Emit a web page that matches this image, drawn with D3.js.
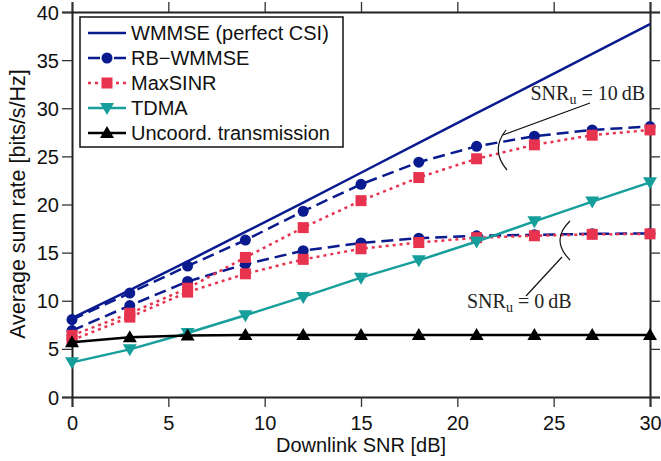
<!DOCTYPE html>
<html><head><meta charset="utf-8">
<script src="https://cdn.jsdelivr.net/npm/d3@7"></script>
<style>body{margin:0;background:#fff}svg{display:block}.sans{font-family:"Liberation Sans",Arial,sans-serif}.serif{font-family:"Liberation Serif","Times New Roman",serif}</style>
</head><body><svg id="c" width="661" height="461"></svg>
<script>
const snr = [0,3,6,9,12,15,18,21,24,27,30];
const wmmsePerfect = [8.2,11.1,14.1,17.15,20.2,23.3,26.4,29.5,32.55,35.65,38.75];
const rbHigh = [8.05,10.8,13.6,16.3,19.3,22.1,24.4,26.05,27.1,27.75,28.1];
const rbLow = [6.9,9.5,12.0,13.8,15.2,16.0,16.5,16.75,16.85,16.95,17.0];
const maxHigh = [6.4,8.7,11.3,14.5,17.6,20.4,22.8,24.75,26.2,27.2,27.75];
const maxLow = [5.9,8.3,10.9,12.8,14.3,15.4,16.05,16.55,16.75,16.9,16.95];
const tdma = [3.6,4.95,6.65,8.5,10.4,12.4,14.2,16.15,18.25,20.3,22.3];
const uncoord = [5.7,6.2,6.4,6.45,6.45,6.45,6.45,6.45,6.45,6.45,6.45];
const xTicks = [0,5,10,15,20,25,30];
const yTicks = [0,5,10,15,20,25,30,35,40];
const legendLabels = ["WMMSE (perfect CSI)","RB\u2212WMMSE","MaxSINR","TDMA","Uncoord. transmission"];

const svg = d3.select("#c");
const x = d3.scaleLinear().domain([0,30]).range([72,650]);
const y = d3.scaleLinear().domain([0,40]).range([397,12]);

const BLUE="#0a1a8f", RED="#e8334f", TEAL="#169e9a", BLACK="#000";

const fs = "20px";
const axB = svg.append("g").attr("transform","translate(0,397)").call(d3.axisBottom(x).tickValues(xTicks).tickSize(10).tickPadding(4));
const axT = svg.append("g").attr("transform","translate(0,12)").call(d3.axisTop(x).tickValues(xTicks).tickSize(10).tickFormat(""));
const axL = svg.append("g").attr("transform","translate(72,0)").call(d3.axisLeft(y).tickValues(yTicks).tickSize(10).tickPadding(3));
const axR = svg.append("g").attr("transform","translate(650,0)").call(d3.axisRight(y).tickValues(yTicks).tickSize(10).tickFormat(""));
[axB,axT,axL,axR].forEach(g=>{
  g.attr("font-family",null).attr("font-size",null);
  g.select(".domain").attr("stroke","#222").attr("stroke-width",2);
  g.selectAll(".tick line").attr("stroke","#333").attr("stroke-width",1.3);
  g.selectAll(".tick text").attr("class","sans").style("font-size",fs).attr("fill","#111");
});
axB.selectAll(".tick text").attr("y",33).attr("dy",0);
axL.selectAll(".tick text").attr("dy","0.35em");

svg.append("text").attr("class","sans").attr("x",(72+650)/2).attr("y",452).attr("text-anchor","middle").style("font-size",fs).attr("fill","#111").text("Downlink SNR [dB]");
svg.append("text").attr("class","sans").attr("transform","translate(25,204) rotate(-90)").attr("text-anchor","middle").style("font-size","21.5px").attr("fill","#111").text("Average sum rate [bits/s/Hz]");

const line = d3.line().x((d,i)=>x(snr[i])).y(d=>y(d));
const plot = svg.append("g");

function drawMarker(g,type,cx,cy,color){
  if(type==="circle") g.append("circle").attr("cx",cx).attr("cy",cy).attr("r",5.5).attr("fill",color);
  else if(type==="square") g.append("rect").attr("x",cx-5.5).attr("y",cy-5.5).attr("width",11).attr("height",11).attr("fill",color);
  else if(type==="tdown") g.append("path").attr("d",`M${cx-7},${cy-5}L${cx+7},${cy-5}L${cx},${cy+7}Z`).attr("fill",color);
  else if(type==="tup") g.append("path").attr("d",`M${cx-7},${cy+5}L${cx+7},${cy+5}L${cx},${cy-7}Z`).attr("fill",color);
}
function series(vals,color,dash,marker){
  plot.append("path").attr("d",line(vals)).attr("fill","none").attr("stroke",color).attr("stroke-width",2.5).attr("stroke-dasharray",dash||null);
  if(marker) vals.forEach((v,i)=>drawMarker(plot,marker,x(snr[i]),y(v),color));
}

series(wmmsePerfect,BLUE,null,null);
series(rbHigh,BLUE,"12,6","circle");
series(rbLow,BLUE,"12,6","circle");
series(maxHigh,RED,"3,4","square");
series(maxLow,RED,"3,4","square");
series(tdma,TEAL,null,"tdown");
series(uncoord,BLACK,null,"tup");

// annotations
const ann = svg.append("g").attr("fill","none").attr("stroke","#111").attr("stroke-width",1.2);
ann.append("path").attr("d","M506,130 Q490,150 507,170");
ann.append("line").attr("x1",503).attr("y1",135).attr("x2",590).attr("y2",103);
ann.append("path").attr("d","M570,221 Q550,240 570,260");
ann.append("line").attr("x1",562).attr("y1",257).attr("x2",526).attr("y2",296);

function snrText(xp,yp,val,anchor){
  const t = svg.append("text").attr("class","serif").attr("x",xp).attr("y",yp).attr("text-anchor",anchor).style("font-size","20px").attr("fill","#222");
  t.append("tspan").text("SNR");
  t.append("tspan").style("font-size","14px").attr("dy",4).text("u");
  t.append("tspan").attr("dy",-4).text(" = "+val+"\u2009dB");
}
snrText(645,100,"10","end");
snrText(467,308,"0","start");

// legend
const lg = svg.append("g");
lg.append("rect").attr("x",80).attr("y",17).attr("width",263).attr("height",130).attr("fill","#fff").attr("stroke","#111").attr("stroke-width",1.5);
const legItems = [
  {c:BLUE,d:null,m:null},{c:BLUE,d:"12,14,12",m:"circle"},{c:RED,d:"3,4",m:"square"},{c:TEAL,d:null,m:"tdown"},{c:BLACK,d:null,m:"tup"}
];
legendLabels.forEach((lab,i)=>{
  const yy = 33 + i*25;
  const it = legItems[i];
  lg.append("line").attr("x1",88).attr("x2",126).attr("y1",yy).attr("y2",yy).attr("stroke",it.c).attr("stroke-width",2.5).attr("stroke-dasharray",it.d);
  if(it.m) drawMarker(lg,it.m,107,yy,it.c);
  lg.append("text").attr("class","sans").attr("x",131).attr("y",yy).attr("dy","0.36em").style("font-size",fs).attr("fill","#111").text(lab);
});
</script></body></html>
